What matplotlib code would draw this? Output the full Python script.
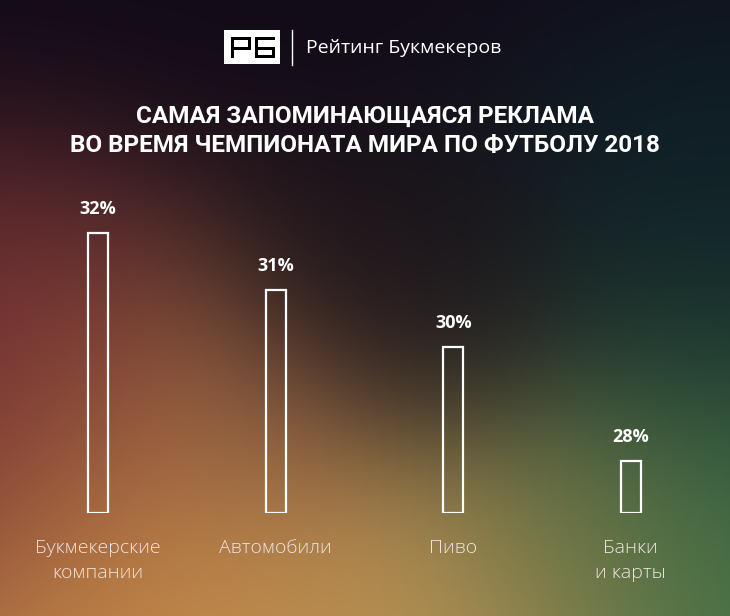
import numpy as np
import matplotlib.pyplot as plt
from matplotlib.colors import to_rgb
from matplotlib.patches import Rectangle

categories = ["Букмекерские\nкомпании", "Автомобили", "Пиво", "Банки\nи карты"]
values = [32, 31, 30, 28]
value_labels = ["32%", "31%", "30%", "28%"]
title = "САМАЯ ЗАПОМИНАЮЩАЯСЯ РЕКЛАМА\nВО ВРЕМЯ ЧЕМПИОНАТА МИРА ПО ФУТБОЛУ 2018"
brand = "Рейтинг Букмекеров"

W, H = 730, 616
fig = plt.figure(figsize=(W / 100, H / 100), dpi=100)

# blurred colour background made of soft blobs over a dark base
yy, xx = np.mgrid[0:H, 0:W]
base = np.array(to_rgb("#120b18"))
blobs = [
    ((-40, 440), 135, "#7a2f35", 1.0),
    ((260, 460), 80, "#7a4640", 0.35),
    ((140, 690), 170, "#d0904a", 1.8),
    ((420, 700), 150, "#c29c5a", 1.6),
    ((740, 590), 160, "#467a4a", 1.4),
    ((570, 540), 80, "#707040", 0.5),
    ((740, 280), 140, "#0d2229", 0.8),
    ((420, 320), 100, "#1a1219", 0.8),
]
w0 = 0.15
num = base[None, None, :] * w0
den = np.full((H, W, 1), w0)
for (cx, cy), s, c, a in blobs:
    w = a * np.exp(-((xx - cx) ** 2 + (yy - cy) ** 2) / (2 * s ** 2))[..., None]
    num = num + w * np.array(to_rgb(c))[None, None, :]
    den = den + w
img = np.clip(num / den, 0, 1)

bg = fig.add_axes([0, 0, 1, 1])
bg.imshow(img, extent=(0, W, H, 0), aspect="auto", interpolation="bilinear")
bg.set_xlim(0, W)
bg.set_ylim(H, 0)
bg.axis("off")

# header: blocky "РБ" logo, divider, brand name
bg.add_patch(Rectangle((224, 30), 56, 34, facecolor="white", edgecolor="none"))
logo_strokes = [
    (231, 37, 3, 21), (231, 37, 20, 3), (248, 37, 3, 13), (231, 47, 20, 3),
    (255, 37, 20, 3), (255, 37, 3, 21), (255, 47, 20, 3), (272, 47, 3, 11),
    (255, 55, 20, 3),
]
for x0, y0, w, h in logo_strokes:
    bg.add_patch(Rectangle((x0, y0), w, h, facecolor="black", edgecolor="none"))
bg.plot([292, 292], [30, 65], color="white", lw=1)
bg.text(306, 48, brand, color="white", fontsize=14, family="Open Sans",
        ha="left", va="center")
bg.text(W / 2, 131, title, color="white", fontsize=17.5, fontweight="bold",
        family="Roboto", ha="center", va="center", linespacing=1.35)

# bars
ax = fig.add_axes([9.2 / W, (H - 513) / H, 710.4 / W, 337 / H])
ax.patch.set_alpha(0)
x = np.arange(len(categories))
ax.bar(x, [v - 27.09 for v in values], bottom=27.09, width=0.113,
       facecolor="none", edgecolor="white", linewidth=1.6)
for xi, v, lab in zip(x, values, value_labels):
    ax.annotate(lab, (xi, v), xytext=(0, 17), textcoords="offset points",
                ha="center", va="center", color="white", fontsize=13,
                fontweight="bold", family="Open Sans")
for xi, cat in zip(x, categories):
    ax.annotate(cat, (xi, 27.09), xytext=(0, -19), textcoords="offset points",
                ha="center", va="top", color="#eee6e0", fontsize=14,
                family="Open Sans", fontweight="light", linespacing=1.45)
ax.set_xlim(-0.5, 3.5)
ax.set_ylim(27.09, 33)
ax.axis("off")

fig.savefig("out.png", dpi=100)
